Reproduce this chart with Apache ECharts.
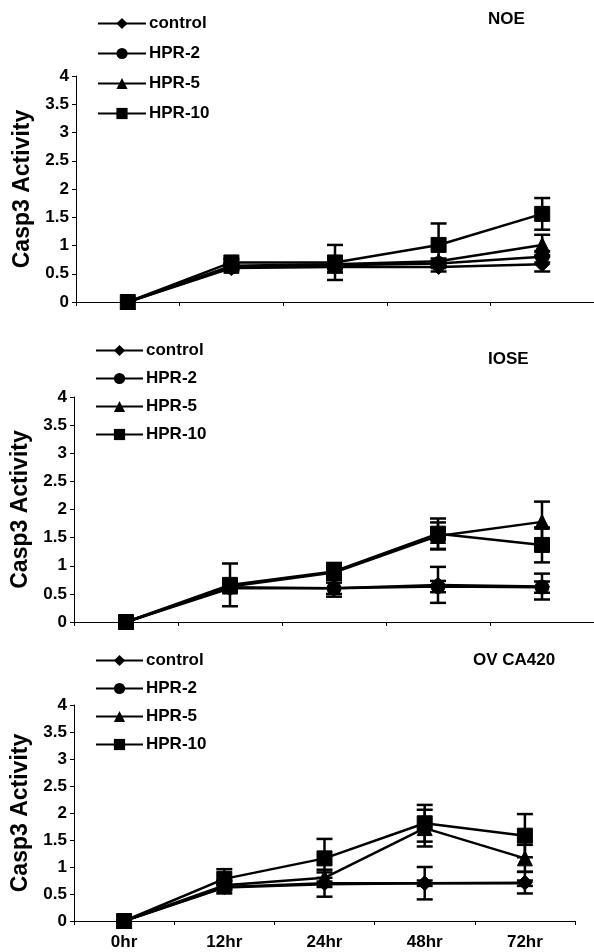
<!DOCTYPE html>
<html>
<head>
<meta charset="UTF-8">
<script src="https://cdn.jsdelivr.net/npm/echarts@6/dist/echarts.min.js"></script>
<style>
html,body{margin:0;padding:0;background:#fff;}
#chart{width:594px;height:952px;}
</style>
</head>
<body>
<div id="chart"></div>
<script>
var hours = ['0hr', '12hr', '24hr', '48hr', '72hr'];
var groups = ['control', 'HPR-2', 'HPR-5', 'HPR-10'];
var symbols = ['diamond', 'circle', 'triangle', 'rect'];
var panelTitles = ['NOE', 'IOSE', 'OV CA420'];

// NOE
var noeControl = [0, 0.60, 0.62, 0.62, 0.67];
var noeHpr2 = [0, 0.62, 0.65, 0.68, 0.80];
var noeHpr5 = [0, 0.64, 0.67, 0.72, 1.01];
var noeHpr10 = [0, 0.70, 0.70, 1.01, 1.56];
var noeControlErr = [0, 0.06, 0.10, 0.08, 0.13];
var noeHpr2Err = [0, 0.05, 0.05, 0.05, 0.10];
var noeHpr5Err = [0, 0.05, 0.05, 0.05, 0.18];
var noeHpr10Err = [0, 0.06, 0.31, 0.38, 0.28];

// IOSE
var ioseControl = [0, 0.60, 0.60, 0.66, 0.63];
var ioseHpr2 = [0, 0.62, 0.60, 0.63, 0.62];
var ioseHpr5 = [0, 0.63, 0.88, 1.53, 1.78];
var ioseHpr10 = [0, 0.66, 0.90, 1.57, 1.37];
var ioseControlErr = [0, 0.05, 0.15, 0.32, 0.23];
var ioseHpr2Err = [0, 0.05, 0.10, 0.10, 0.10];
var ioseHpr5Err = [0, 0.10, 0.10, 0.24, 0.36];
var ioseHpr10Err = [0, 0.38, 0.15, 0.27, 0.31];

// OV CA420
var ovControl = [0, 0.63, 0.70, 0.70, 0.71];
var ovHpr2 = [0, 0.62, 0.68, 0.70, 0.70];
var ovHpr5 = [0, 0.66, 0.80, 1.72, 1.16];
var ovHpr10 = [0, 0.78, 1.16, 1.81, 1.58];
var ovControlErr = [0, 0.12, 0.25, 0.30, 0.20];
var ovHpr2Err = [0, 0.05, 0.05, 0.05, 0.05];
var ovHpr5Err = [0, 0.08, 0.10, 0.34, 0.25];
var ovHpr10Err = [0, 0.18, 0.36, 0.34, 0.40];

var panelValues = [
  [noeControl, noeHpr2, noeHpr5, noeHpr10],
  [ioseControl, ioseHpr2, ioseHpr5, ioseHpr10],
  [ovControl, ovHpr2, ovHpr5, ovHpr10]
];
var panelErrors = [
  [noeControlErr, noeHpr2Err, noeHpr5Err, noeHpr10Err],
  [ioseControlErr, ioseHpr2Err, ioseHpr5Err, ioseHpr10Err],
  [ovControlErr, ovHpr2Err, ovHpr5Err, ovHpr10Err]
];

var font = 'Liberation Sans, Arial, sans-serif';
var grids = [
  {left: 76, top: 76, width: 524, height: 226},
  {left: 74, top: 397, width: 520, height: 225},
  {left: 74, top: 705, width: 501, height: 216}
];
var titlePos = [[483, 6], [483, 346], [468, 647]];
var legendPos = [[92, 10, 48, 13], [90, 337, 47, 11], [90, 647, 47, 11]];
var symbolSizes = [[15, 14, 15, 15], [15, 14, 15, 15], [15, 8, 15, 15]];

function errorBars(values, errs) {
  var data = [];
  for (var i = 0; i < values.length; i++) {
    if (errs[i] > 0) data.push([i, values[i], errs[i]]);
  }
  return data;
}

var xAxes = [], yAxes = [], series = [], titles = [], legends = [];
for (var p = 0; p < 3; p++) {
  titles.push({
    text: panelTitles[p], left: titlePos[p][0], top: titlePos[p][1],
    textStyle: {fontFamily: font, fontSize: 17, fontWeight: 'bold', color: '#000'}
  });
  legends.push({
    data: groups, orient: 'vertical', left: legendPos[p][0], top: legendPos[p][1],
    itemWidth: legendPos[p][2], itemHeight: 14, itemGap: legendPos[p][3], selectedMode: false,
    textStyle: {fontFamily: font, fontSize: 17, fontWeight: 'bold', color: '#000', padding: [0, 0, 0, -2]}
  });
  xAxes.push({
    type: 'category', gridIndex: p, data: hours, boundaryGap: true,
    axisLine: {lineStyle: {color: '#000', width: 1}},
    axisTick: {show: true, length: 4, lineStyle: {color: '#000'}},
    axisLabel: {show: p === 2, color: '#000', fontFamily: font, fontSize: 17, fontWeight: 'bold', margin: 13},
    splitLine: {show: false}
  });
  yAxes.push({
    type: 'value', gridIndex: p, min: 0, max: 4, interval: 0.5,
    name: 'Casp3 Activity', nameLocation: 'middle', nameRotate: 90, nameGap: 39,
    nameTextStyle: {fontFamily: font, fontSize: 23, fontWeight: 'bold', color: '#000'},
    axisLine: {show: true, lineStyle: {color: '#000', width: 1}},
    axisTick: {show: true, length: 4, lineStyle: {color: '#000'}},
    axisLabel: {color: '#000', fontFamily: font, fontSize: 17, fontWeight: 'bold', margin: 7},
    splitLine: {show: false}
  });
  for (var g = 0; g < 4; g++) {
    series.push({
      type: 'custom', xAxisIndex: p, yAxisIndex: p, silent: true, z: 1,
      data: errorBars(panelValues[p][g], panelErrors[p][g]),
      renderItem: function (params, api) {
        var x = api.value(0), v = api.value(1), e = api.value(2);
        var top = api.coord([x, v + e]);
        var bot = api.coord([x, v - e]);
        var w = 8;
        var st = {stroke: '#000', lineWidth: 2.5};
        return {type: 'group', children: [
          {type: 'line', shape: {x1: top[0], y1: top[1], x2: bot[0], y2: bot[1]}, style: st},
          {type: 'line', shape: {x1: top[0] - w, y1: top[1], x2: top[0] + w, y2: top[1]}, style: st},
          {type: 'line', shape: {x1: bot[0] - w, y1: bot[1], x2: bot[0] + w, y2: bot[1]}, style: st}
        ]};
      }
    });
    series.push({
      type: 'line', name: groups[g], xAxisIndex: p, yAxisIndex: p, z: 2,
      data: panelValues[p][g],
      symbol: symbols[g], symbolSize: symbolSizes[p][g],
      lineStyle: {color: '#000', width: 2.5},
      itemStyle: {color: '#000', borderColor: '#000'}
    });
  }
}

var chart = echarts.init(document.getElementById('chart'));
chart.setOption({
  animation: false,
  backgroundColor: '#fff',
  title: titles,
  legend: legends,
  grid: grids,
  xAxis: xAxes,
  yAxis: yAxes,
  series: series
});
</script>
</body>
</html>
